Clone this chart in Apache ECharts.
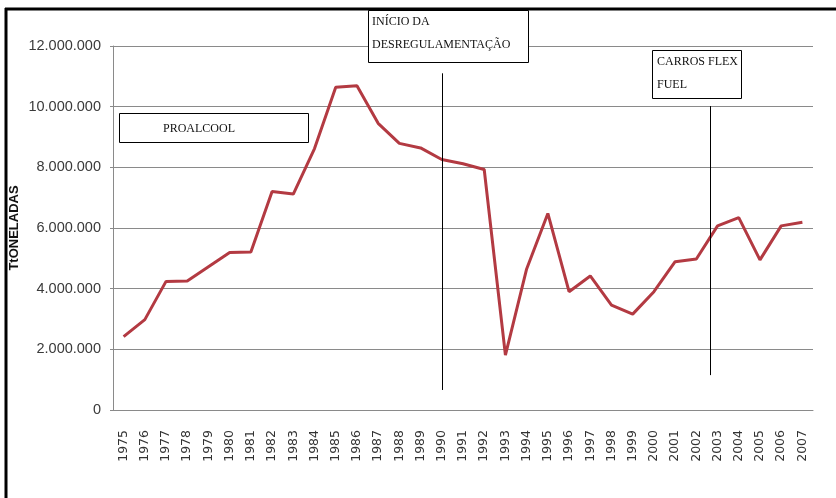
<!DOCTYPE html>
<html>
<head>
<meta charset="utf-8">
<script src="https://cdn.jsdelivr.net/npm/echarts@6/dist/echarts.min.js"></script>
<style>
html,body{margin:0;padding:0;background:#fff;}
#chart{width:836px;height:498px;}
</style>
</head>
<body>
<div id="chart"></div>
<script>
var years = ['1975','1976','1977','1978','1979','1980','1981','1982','1983','1984','1985','1986','1987','1988','1989','1990','1991','1992','1993','1994','1995','1996','1997','1998','1999','2000','2001','2002','2003','2004','2005','2006','2007'];
var toneladas = [2420000,2980000,4240000,4250000,4720000,5190000,5210000,7200000,7120000,8620000,10640000,10690000,9450000,8790000,8640000,8260000,8120000,7930000,1810000,4650000,6480000,3900000,4420000,3460000,3160000,3900000,4890000,4980000,6070000,6340000,4950000,6070000,6190000];
var yTicks = [0, 2000000, 4000000, 6000000, 8000000, 10000000, 12000000];
var yAxisTitle = 'TtONELADAS';
// event markers: [category position, from value, to value]
var eventDeregulation = [15, 11100000, 660000];
var eventFlex = [27.66, 10020000, 1150000];
var annotations = [
  {lines:['PROALCOOL'], box:[119,113,189,29], tx:163, ty:129},
  {lines:['INÍCIO DA','DESREGULAMENTAÇÃO'], box:[368,10,160,52], tx:372, ty:22},
  {lines:['CARROS FLEX','FUEL'], box:[652,50,89,48], tx:657, ty:62}
];

var chart = echarts.init(document.getElementById('chart'));
function fmt(v){ return String(v).replace(/\B(?=(\d{3})+(?!\d))/g, '.'); }

var option = {
  animation:false,
  backgroundColor:'#fff',
  grid:{left:113, right:23, top:46, bottom:88, containLabel:false, outerBoundsMode:'none'},
  xAxis:{
    type:'category', data:years, boundaryGap:true,
    axisLine:{lineStyle:{color:'#8a8a8a', width:1}},
    axisTick:{show:false},
    axisLabel:{rotate:90, margin:20, fontFamily:'DejaVu Sans', fontSize:12.5, color:'#333'}
  },
  yAxis:{
    type:'value', min:yTicks[0], max:yTicks[yTicks.length-1], interval:yTicks[1]-yTicks[0],
    name:yAxisTitle, nameLocation:'middle', nameRotate:90, nameGap:92, nameMoveOverlap:false,
    nameTextStyle:{fontFamily:'Liberation Sans', fontWeight:'bold', fontSize:13, color:'#111'},
    axisLine:{show:true, lineStyle:{color:'#8a8a8a'}},
    axisTick:{show:true, length:3, lineStyle:{color:'#8a8a8a'}},
    axisLabel:{formatter:fmt, margin:12, fontFamily:'Liberation Sans, sans-serif', fontSize:14.5, color:'#3a3a3a'},
    splitLine:{lineStyle:{color:'#8a8a8a', width:1}}
  },
  series:[{
    type:'line', data:toneladas, symbol:'none',
    lineStyle:{color:'#B33A42', width:3},
    itemStyle:{color:'#B33A42'}
  }]
};
chart.setOption(option);

function px(c, v){ return chart.convertToPixel({xAxisIndex:0, yAxisIndex:0}, [c, v]); }
function posX(c){
  var i = Math.floor(c), f = c - i;
  var a = px(i, 0)[0], b = px(i+1, 0)[0];
  return a + (b - a) * f;
}
function posY(v){ return px(0, v)[1]; }

var graphics = [];
// outer frame (left and top)
graphics.push({type:'line', shape:{x1:6, y1:8, x2:6, y2:498}, style:{stroke:'#000', lineWidth:3}, z:100});
graphics.push({type:'line', shape:{x1:5, y1:9, x2:836, y2:9}, style:{stroke:'#000', lineWidth:3}, z:100});
[eventDeregulation, eventFlex].forEach(function(e){
  var x = Math.round(posX(e[0])) + 0.5;
  graphics.push({type:'line', shape:{x1:x, y1:posY(e[1]), x2:x, y2:posY(e[2])}, style:{stroke:'#000', lineWidth:1}, z:50});
});
annotations.forEach(function(a){
  graphics.push({type:'rect', shape:{x:a.box[0]+0.5, y:a.box[1]+0.5, width:a.box[2], height:a.box[3]},
    style:{fill:'#fff', stroke:'#000', lineWidth:1}, z:60});
  a.lines.forEach(function(t, i){
    graphics.push({type:'text', x:a.tx, y:a.ty + i*23, z:61,
      style:{text:t, fill:'#111', font:'12px "Liberation Serif", serif', textVerticalAlign:'middle', verticalAlign:'middle'}});
  });
});
chart.setOption({graphic:graphics});
</script>
</body>
</html>
